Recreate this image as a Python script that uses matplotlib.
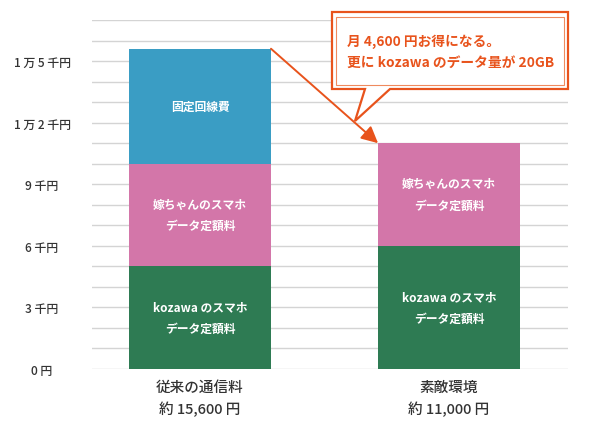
import matplotlib
matplotlib.use("Agg")
import matplotlib.pyplot as plt
from matplotlib.patches import Polygon, Rectangle

plt.rcParams["font.family"] = ["Noto Sans CJK JP", "DejaVu Sans"]

# ---- data ----
categories = ["従来の通信料", "素敵環境"]
totals_text = ["約 15,600 円", "約 11,000 円"]
kozawa = [5000, 6000]
yome = [5000, 5000]
fixed_line = [5600, 0]
seg_labels = ["kozawa のスマホ\nデータ定額料", "嫁ちゃんのスマホ\nデータ定額料", "固定回線費"]
seg_colors = ["#2e7b53", "#d376a9", "#3a9dc4"]
ytick_vals = [0, 3000, 6000, 9000, 12000, 15000]
ytick_labels = ["0 円", "3 千円", "6 千円", "9 千円", "1 万 2 千円", "1 万 5 千円"]
callout_lines = ["月 4,600 円お得になる。", "更に kozawa のデータ量が 20GB"]

W, H = 600, 427
ORANGE = "#e8531c"
TXT = "#333333"

fig = plt.figure(figsize=(W / 100, H / 100), dpi=100)
ax = fig.add_axes([92 / W, (H - 370) / H, (568 - 92) / W, (370 - 21) / H])

x = list(range(len(categories)))
width = 0.57
bottoms = [0] * len(x)
for vals, col, lab in zip([kozawa, yome, fixed_line], seg_colors, seg_labels):
    ax.bar(x, vals, width, bottom=bottoms, color=col, zorder=2)
    for xi, v, b in zip(x, vals, bottoms):
        if v > 0:
            ax.text(xi, b + v / 2, lab, ha="center", va="center", color="white",
                    fontsize=8.5, fontweight="bold", linespacing=1.85, zorder=3)
    bottoms = [b + v for b, v in zip(bottoms, vals)]

ax.set_xlim(-0.434, 1.478)
ax.set_ylim(0, 17000)
ax.set_yticks(ytick_vals)
ax.set_yticklabels(ytick_labels, ha="center", fontsize=8.6, color=TXT,
                   fontweight="medium")
ax.set_yticks(range(0, 18000, 1000), minor=True)
ax.tick_params(axis="y", which="both", length=0, pad=36)
ax.grid(axis="y", which="both", color="#d4d4d4", lw=1.0, zorder=0)
ax.set_axisbelow(True)
ax.set_xticks(x)
ax.set_xticklabels([f"{c}\n{t}" for c, t in zip(categories, totals_text)],
                   fontsize=10.5, color=TXT, linespacing=1.55, fontweight="medium")
ax.tick_params(axis="x", length=0, pad=8)
for s in ax.spines.values():
    s.set_visible(False)

# arrow from the old total to the new total
ax.annotate("", xy=(x[1] - width / 2, bottoms[1]), xytext=(x[0] + width / 2, bottoms[0]),
            arrowprops=dict(arrowstyle="-|>,head_length=1.0,head_width=0.5",
                            color=ORANGE, lw=1.4, shrinkA=0, shrinkB=0), zorder=4)

# callout box (pixel layout -> figure coords)
def fp(px, py):
    return (px / W, (H - py) / H)

outer = [fp(332, 13), fp(568, 13), fp(568, 90), fp(390, 90), fp(355, 122),
         fp(365, 90), fp(332, 90)]
fig.patches.append(Polygon(outer, closed=True, transform=fig.transFigure,
                           facecolor="white", edgecolor=ORANGE, lw=1.6, zorder=5))
x0, y0 = fp(336, 86)
x1, y1 = fp(564, 18)
fig.patches.append(Rectangle((x0, y0), x1 - x0, y1 - y0, transform=fig.transFigure,
                             facecolor="none", edgecolor="#ef8a5e", lw=0.8, zorder=6))
for line, py in zip(callout_lines, [42, 63]):
    fig.text(347 / W, (H - py) / H, line, ha="left", va="center", color=ORANGE,
             fontsize=9.9, fontweight="bold", zorder=7)

fig.savefig("out.png", dpi=100)
